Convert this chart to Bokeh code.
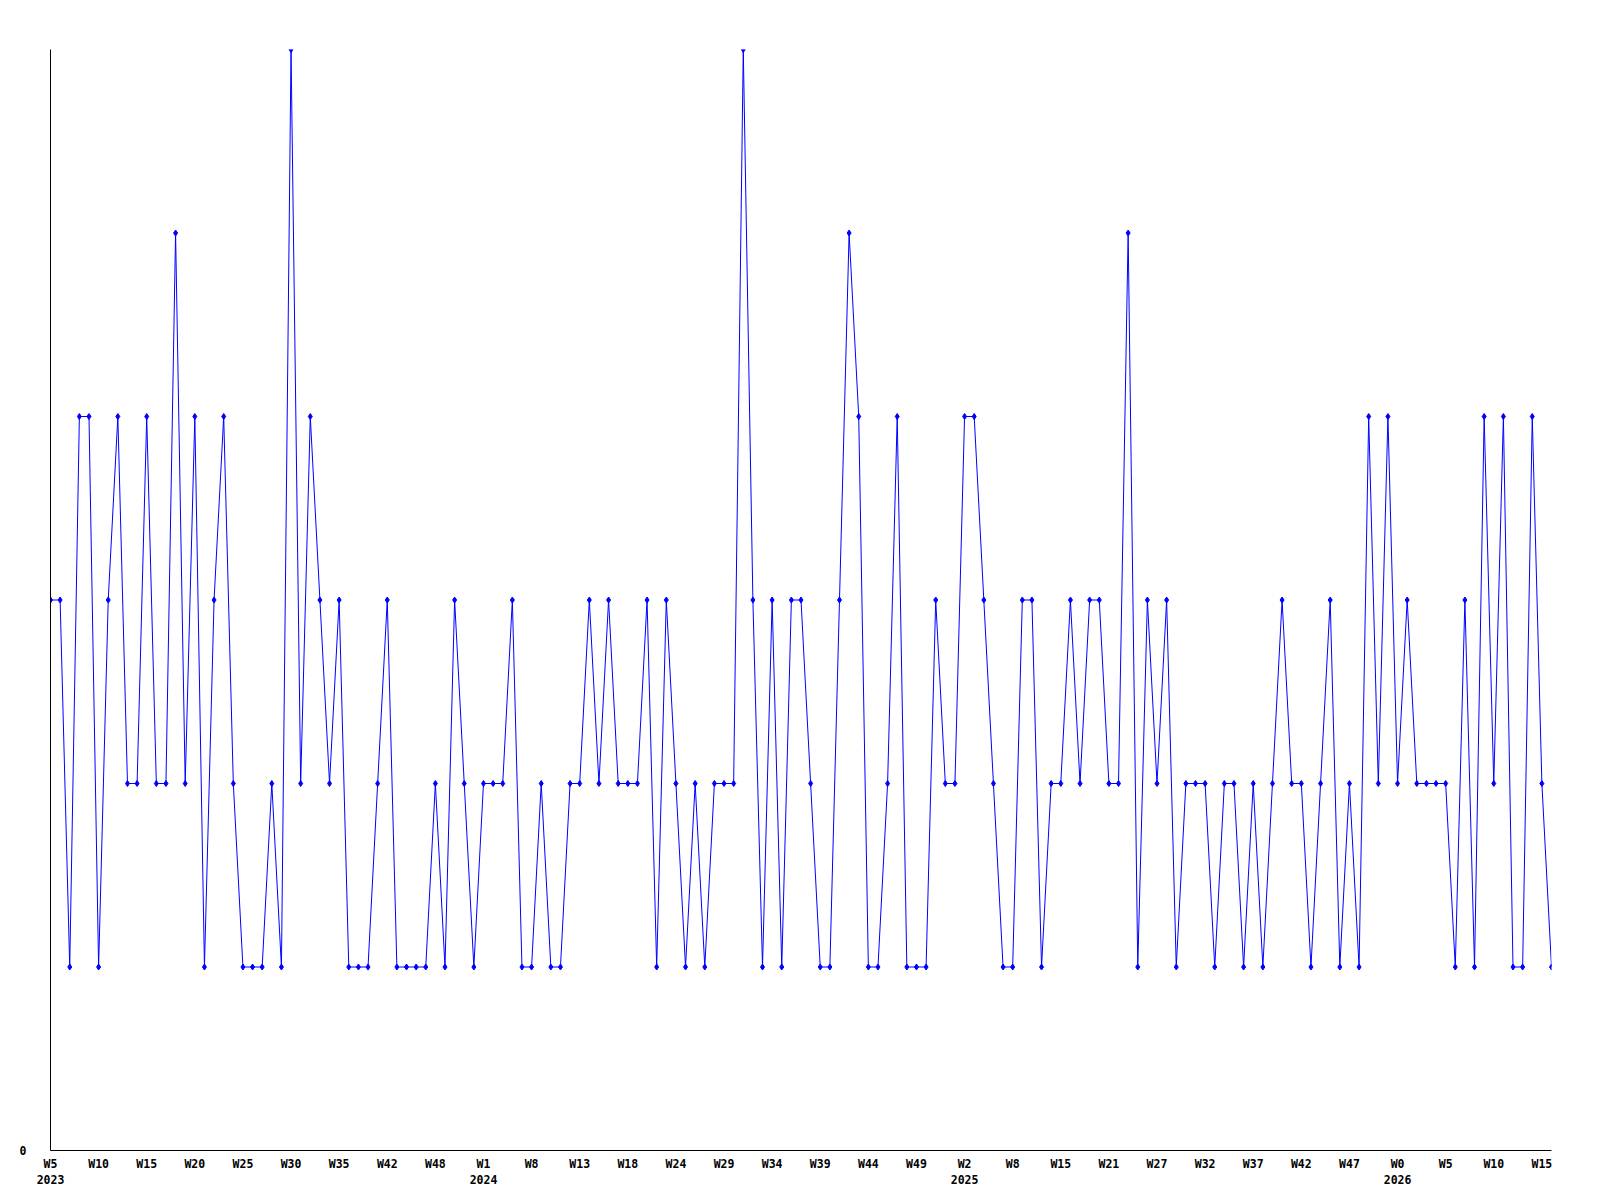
from bokeh.plotting import figure
from bokeh.models import Range1d, FixedTicker
from bokeh.embed import file_html
from bokeh.resources import INLINE

# weekly values, 2023 W5 .. 2026 W15
values = [
    3, 3, 1, 4, 4, 1, 3, 4, 2, 2, 4, 2, 2, 5, 2, 4, 1, 3, 4, 2, 1, 1, 1, 2, 1, 6,
    2, 4, 3, 2, 3, 1, 1, 1, 2, 3, 1, 1, 1, 1, 2, 1, 3, 2, 1, 2, 2, 2, 3, 1, 1, 2,
    1, 1, 2, 2, 3, 2, 3, 2, 2, 2, 3, 1, 3, 2, 1, 2, 1, 2, 2, 2, 6, 3, 1, 3, 1, 3,
    3, 2, 1, 1, 3, 5, 4, 1, 1, 2, 4, 1, 1, 1, 3, 2, 2, 4, 4, 3, 2, 1, 1, 3, 3, 1,
    2, 2, 3, 2, 3, 3, 2, 2, 5, 1, 3, 2, 3, 1, 2, 2, 2, 1, 2, 2, 1, 2, 1, 2, 3, 2,
    2, 1, 2, 3, 1, 2, 1, 4, 2, 4, 2, 3, 2, 2, 2, 2, 1, 3, 1, 4, 2, 4, 1, 1, 4, 2,
    1,
]

# tick labels, one every 5 weeks
week_labels = [
    "W5", "W10", "W15", "W20", "W25", "W30", "W35", "W42", "W48",
    "W1", "W8", "W13", "W18", "W24", "W29", "W34", "W39", "W44", "W49",
    "W2", "W8", "W15", "W21", "W27", "W32", "W37", "W42", "W47",
    "W0", "W5", "W10", "W15",
]
year_labels = [
    "2023", "", "", "", "", "", "", "", "",
    "2024", "", "", "", "", "", "", "", "", "",
    "2025", "", "", "", "", "", "", "", "",
    "2026", "", "", "",
]
tick_step = 5

x = list(range(len(values)))
ticks = [i * tick_step for i in range(len(week_labels))]
overrides = {}
for t, w, yr in zip(ticks, week_labels, year_labels):
    overrides[t] = w + ("\n" + yr if yr else "")

FONT = "DejaVu Sans Mono"
BLUE = "#0000FF"

p = figure(width=1592, height=1192, output_backend="svg", toolbar_location=None,
           x_range=Range1d(0, len(values) - 1), y_range=Range1d(0, 6),
           min_border_left=50, min_border_top=49, min_border_right=41,
           min_border_bottom=42)
p.outline_line_color = None
p.xgrid.visible = False
p.ygrid.visible = False

p.line(x, values, line_color=BLUE, line_width=1)
p.scatter(x, values, marker="diamond", size=6, fill_color=BLUE, line_color=BLUE)

xa = p.xaxis[0]
xa.ticker = FixedTicker(ticks=ticks)
xa.major_label_overrides = overrides
xa.major_tick_out = 0
xa.major_tick_in = 0
xa.minor_tick_out = 0
xa.minor_tick_in = 0
xa.major_label_standoff = 6
xa.major_label_text_font = FONT
xa.major_label_text_font_style = "bold"
xa.major_label_text_font_size = "11.5px"
xa.major_label_text_color = "black"
xa.axis_line_color = "black"

ya = p.yaxis[0]
ya.ticker = FixedTicker(ticks=[0])
ya.major_tick_out = 0
ya.major_tick_in = 0
ya.minor_tick_out = 0
ya.minor_tick_in = 0
ya.major_label_standoff = 24
ya.major_label_text_font = FONT
ya.major_label_text_font_style = "bold"
ya.major_label_text_font_size = "11.5px"
ya.major_label_text_color = "black"
ya.axis_line_color = "black"

open("out.html", "w").write(file_html(p, INLINE))
